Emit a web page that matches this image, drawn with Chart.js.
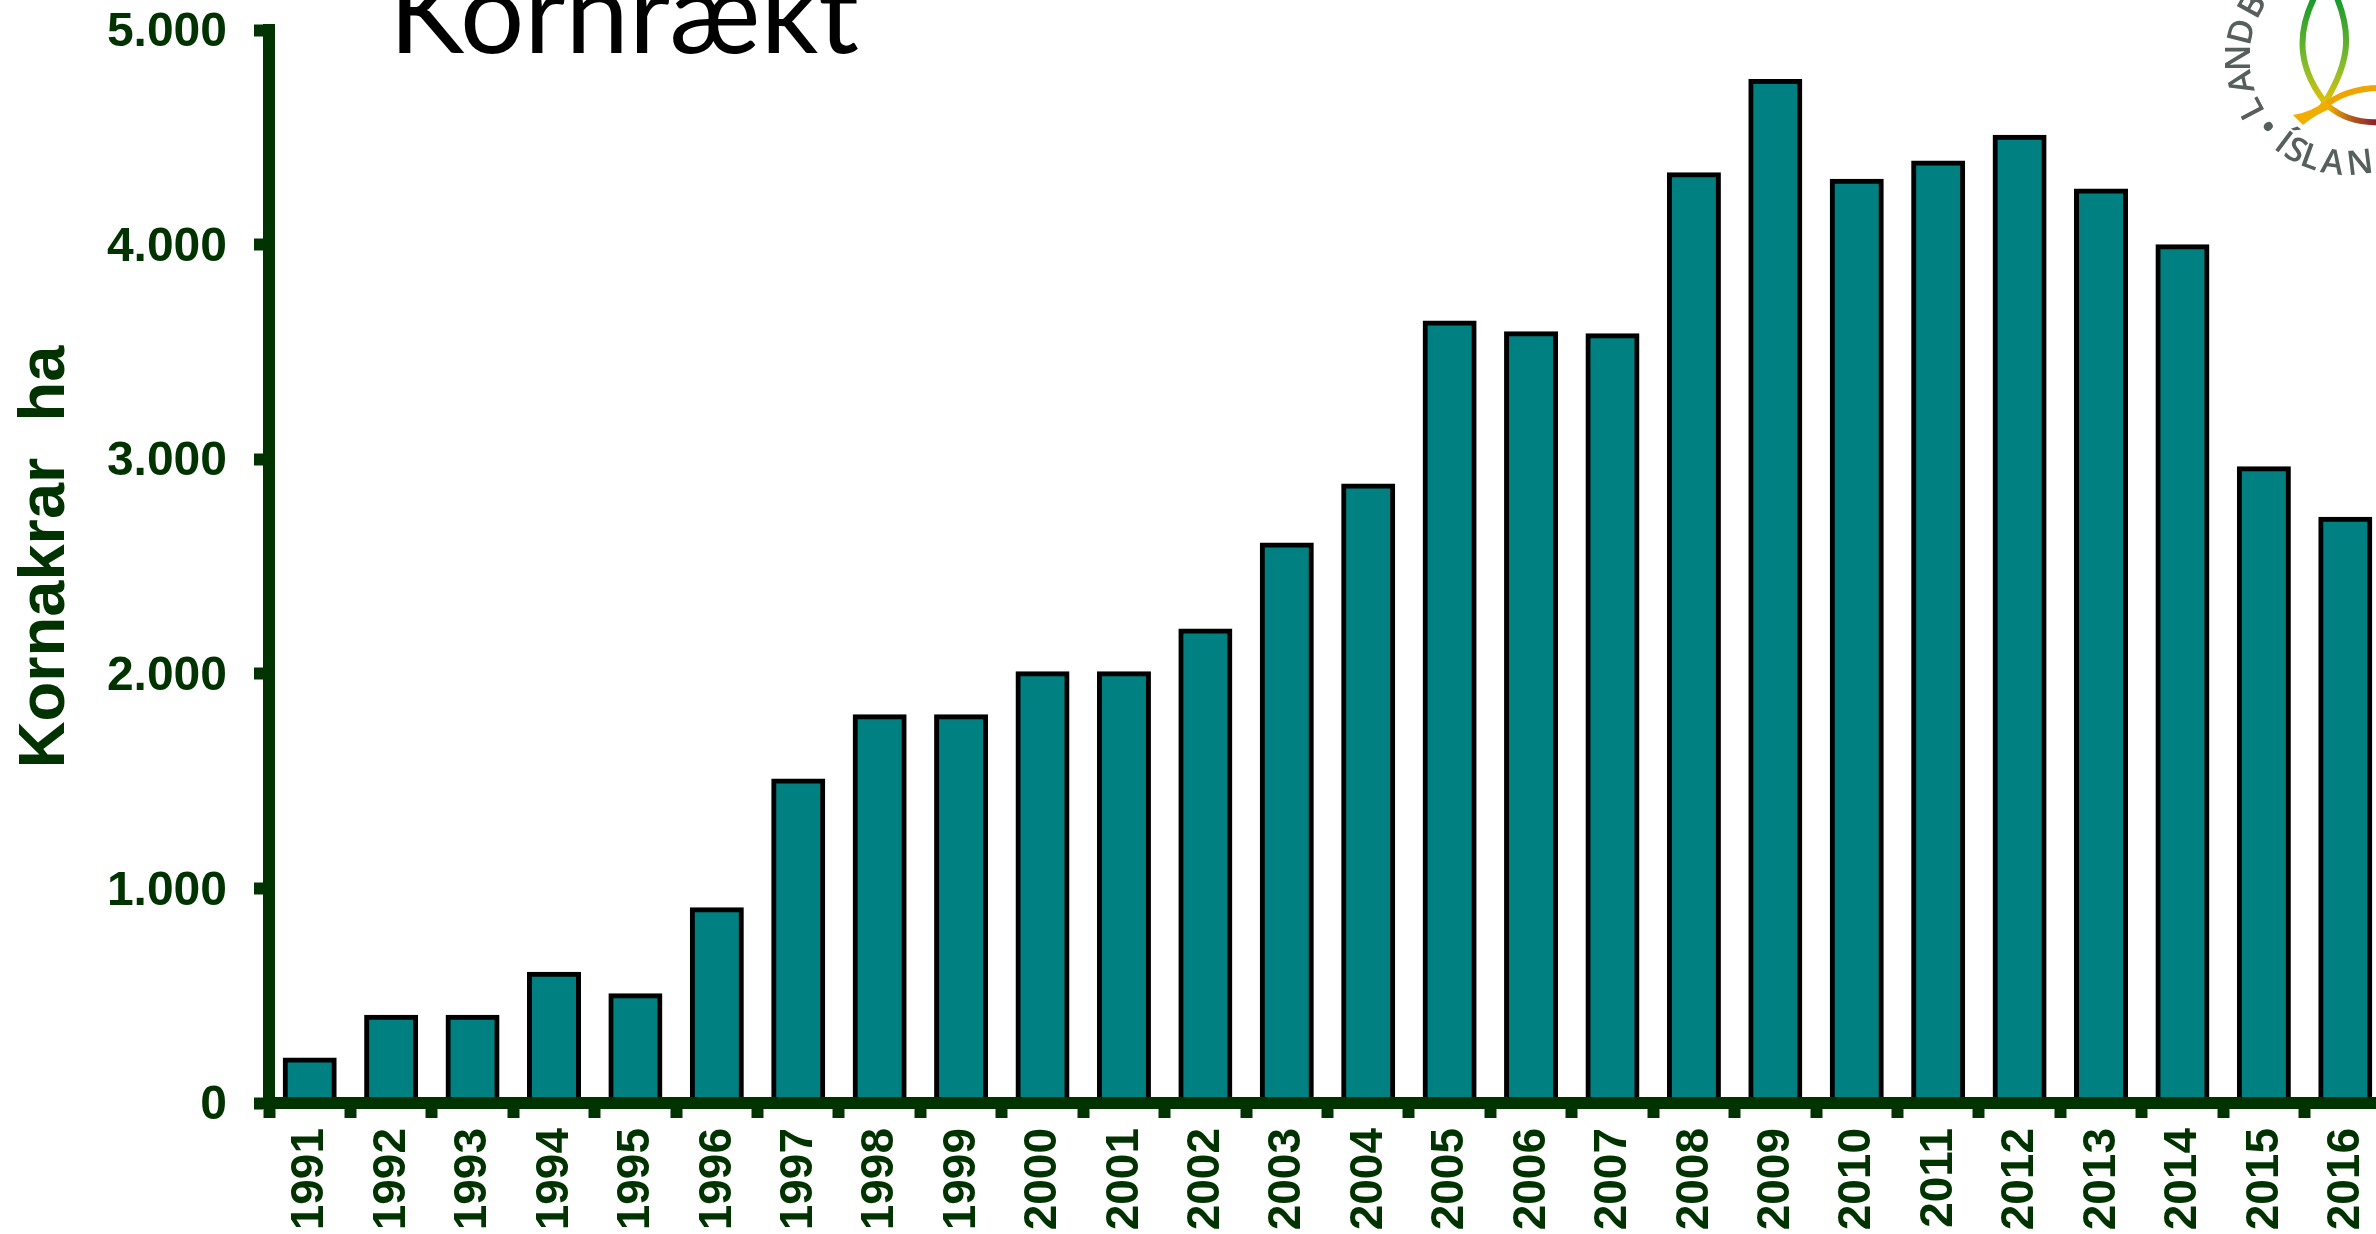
<!DOCTYPE html>
<html>
<head>
<meta charset="utf-8">
<title>Kornrækt</title>
<script src="https://cdn.jsdelivr.net/npm/chart.js@4"></script>
<style>
  html, body { margin: 0; padding: 0; background: #fff; overflow: hidden; }
  #wrap { width: 2376px; height: 1234px; overflow: hidden; }
  canvas { display: block; }
</style>
</head>
<body>
<div id="wrap"><canvas id="chart" width="2386" height="1234"></canvas></div>
<script>
const years = ['1991','1992','1993','1994','1995','1996','1997','1998','1999','2000','2001','2002','2003',
  '2004','2005','2006','2007','2008','2009','2010','2011','2012','2013','2014','2015','2016'];
const hectares = [200,400,400,600,500,900,1500,1800,1800,2000,2000,2200,2600,
  2875,3635,3585,3575,4325,4760,4295,4380,4500,4250,3990,2955,2720];
const yTicks = ['0','1.000','2.000','3.000','4.000','5.000'];
const titleText = 'Kornrækt';
const yAxisTitle = 'Kornakrar  ha';

const green = '#003300';
const labelFont = '"Liberation Sans", Arial, sans-serif';

// letters of the round logo, with their angle on the circle
const logoUpper = [['L',152],['A',167],['N',180],['D',194],['B',209]];
const logoLower = [['•',139],['Í',127],['S',119],['L',110],['A',98],['N',83]];

function drawLogo(ctx) {
  const cx = 2347, cy = 58, r = 107;
  ctx.save();
  ctx.fillStyle = '#555f5c';
  ctx.font = '600 34px "Open Sans", sans-serif';
  ctx.textAlign = 'center';
  ctx.textBaseline = 'middle';
  const put = (ch, deg, turn) => {
    const a = deg * Math.PI / 180;
    ctx.save();
    ctx.translate(cx + r * Math.cos(a), cy + r * Math.sin(a));
    ctx.rotate(a + turn);
    ctx.fillText(ch, 0, 0);
    ctx.restore();
  };
  logoUpper.forEach(([ch, deg]) => put(ch, deg, Math.PI / 2));
  logoLower.forEach(([ch, deg]) => put(ch, deg, -Math.PI / 2));

  // upright fish
  const g = ctx.createLinearGradient(0, 0, 0, 110);
  g.addColorStop(0, '#189a2c');
  g.addColorStop(0.6, '#86bc2c');
  g.addColorStop(1, '#f2c200');
  ctx.strokeStyle = g;
  ctx.lineWidth = 6;
  ctx.beginPath();
  ctx.moveTo(2314, -2);
  ctx.bezierCurveTo(2296, 35, 2298, 70, 2328, 106);
  ctx.stroke();
  ctx.beginPath();
  ctx.moveTo(2337, -2);
  ctx.bezierCurveTo(2352, 35, 2350, 65, 2320, 110);
  ctx.stroke();

  // lying fish and tail
  ctx.strokeStyle = '#f0a400';
  ctx.lineWidth = 6;
  ctx.beginPath();
  ctx.moveTo(2322, 108);
  ctx.quadraticCurveTo(2345, 88, 2380, 88);
  ctx.stroke();
  const h = ctx.createLinearGradient(2328, 0, 2376, 0);
  h.addColorStop(0, '#f0b000');
  h.addColorStop(0.5, '#b05a20');
  h.addColorStop(1, '#8e1f2e');
  ctx.strokeStyle = h;
  ctx.lineWidth = 6;
  ctx.beginPath();
  ctx.moveTo(2328, 106);
  ctx.quadraticCurveTo(2350, 124, 2380, 122);
  ctx.stroke();
  ctx.fillStyle = '#f2ae00';
  ctx.beginPath();
  ctx.moveTo(2293, 115);
  ctx.quadraticCurveTo(2312, 112, 2325, 101);
  ctx.lineTo(2332, 108);
  ctx.quadraticCurveTo(2316, 114, 2303, 125);
  ctx.closePath();
  ctx.fill();
  ctx.restore();
}

const overlay = {
  id: 'overlay',
  afterDraw(chart) {
    const ctx = chart.ctx;
    ctx.save();
    ctx.fillStyle = '#000';
    ctx.font = '113.5px Lato, sans-serif';
    ctx.textBaseline = 'alphabetic';
    ctx.textAlign = 'left';
    ctx.fillText(titleText, 389, 53);

    ctx.translate(46, 557);
    ctx.rotate(-Math.PI / 2);
    ctx.fillStyle = green;
    ctx.font = 'bold 65px ' + labelFont;
    ctx.textAlign = 'center';
    ctx.textBaseline = 'middle';
    ctx.fillText(yAxisTitle, 0, 0);
    ctx.restore();
    drawLogo(ctx);
  }
};

new Chart(document.getElementById('chart'), {
  type: 'bar',
  data: {
    labels: years,
    datasets: [{
      label: 'Kornakrar ha',
      data: hectares,
      backgroundColor: '#008080',
      borderColor: '#000',
      borderWidth: 5,
      inflateAmount: 2.5,
      categoryPercentage: 1,
      barPercentage: 0.602
    }]
  },
  options: {
    responsive: false,
    animation: false,
    layout: { padding: { top: 30, left: 0, right: 0, bottom: 0 } },
    plugins: { legend: { display: false }, tooltip: { enabled: false }, title: { display: false } },
    scales: {
      x: {
        afterFit(scale) { scale.height = 131; scale.paddingLeft = 0; scale.paddingRight = 0; },
        border: { color: green, width: 12, z: 1 },
        grid: { z: 1, drawOnChartArea: false, color: green, tickColor: green, tickWidth: 12, tickLength: 15 },
        ticks: {
          color: green,
          font: { family: labelFont, weight: 'bold', size: 46 },
          minRotation: 90,
          maxRotation: 90,
          padding: 10,
          labelOffset: 1,
          autoSkip: false
        }
      },
      y: {
        min: 0,
        max: 5000,
        afterFit(scale) { scale.width = 269; scale.paddingTop = 0; scale.paddingBottom = 0; },
        border: { color: green, width: 12, z: 1 },
        grid: { z: 1, drawOnChartArea: false, color: green, tickColor: green, tickWidth: 12, tickLength: 15 },
        ticks: {
          color: green,
          stepSize: 1000,
          padding: 27,
          labelOffset: 3,
          font: { family: labelFont, weight: 'bold', size: 48 },
          callback: (value, i) => yTicks[i]
        }
      }
    }
  },
  plugins: [overlay]
});
</script>
</body>
</html>
